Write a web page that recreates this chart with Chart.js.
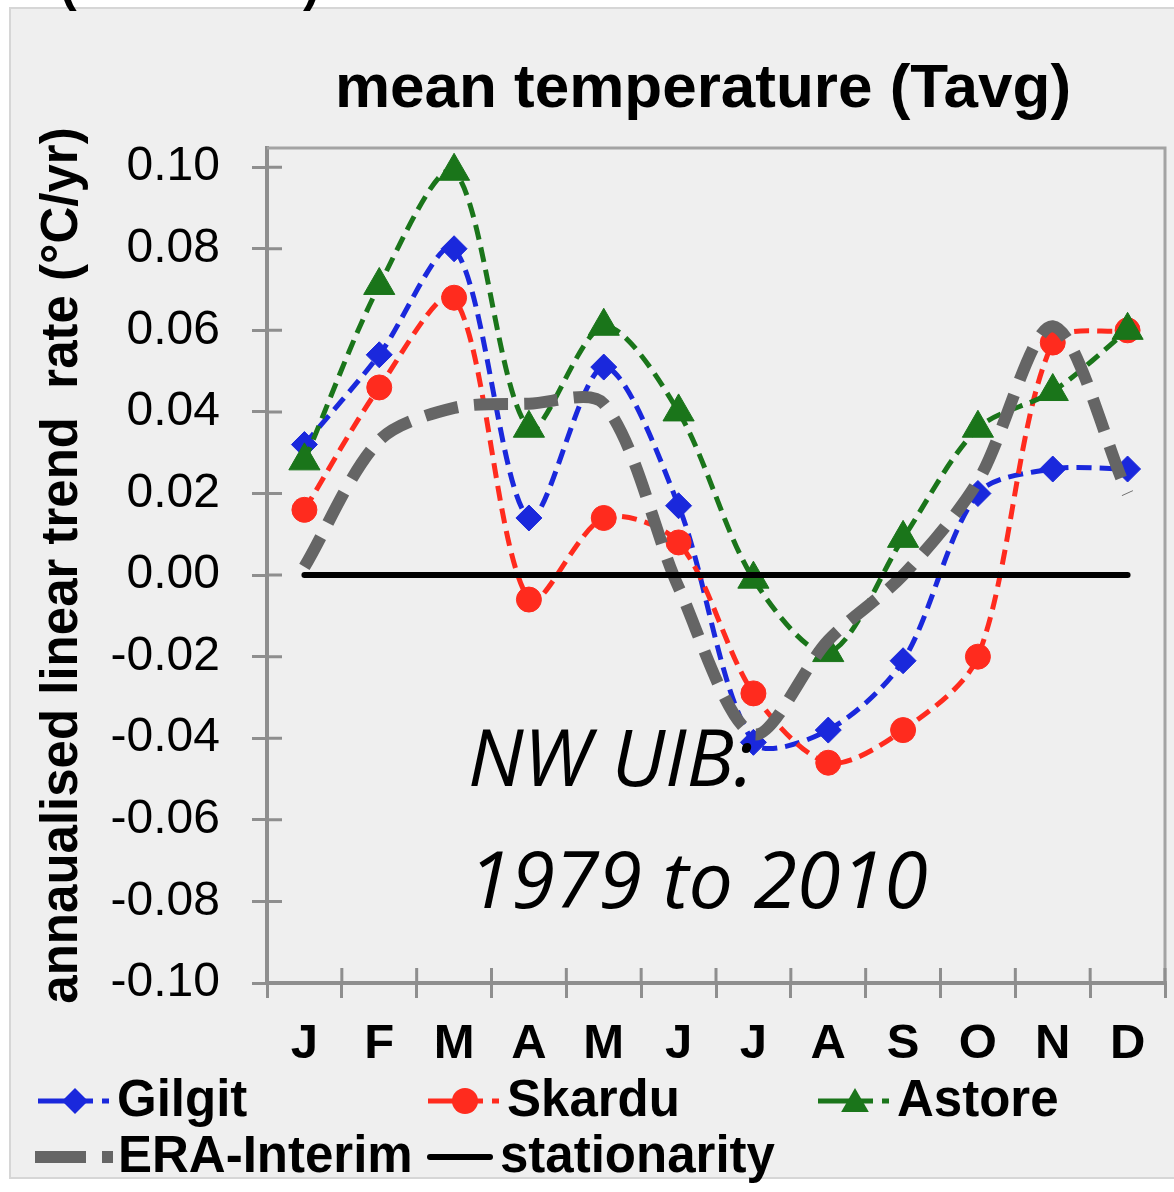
<!DOCTYPE html>
<html><head><meta charset="utf-8">
<script src="https://cdn.jsdelivr.net/npm/chart.js@4.4.0/dist/chart.umd.min.js"></script>
<style>html,body{margin:0;padding:0;background:#fff;}canvas{display:block}</style>
</head><body>
<canvas id="c" width="1174" height="1192"></canvas>
<script>
// ---- data ----
const months = ['J','F','M','A','M','J','J','A','S','O','N','D'];
const yTicks = [-0.10,-0.08,-0.06,-0.04,-0.02,0.00,0.02,0.04,0.06,0.08,0.10];
const gilgit = [0.032,0.054,0.080,0.014,0.051,0.017,-0.041,-0.038,-0.021,0.020,0.026,0.026];
const skardu = [0.016,0.046,0.068,-0.006,0.014,0.008,-0.029,-0.046,-0.038,-0.020,0.057,0.060];
const astore = [0.028,0.071,0.099,0.036,0.061,0.040,-0.001,-0.019,0.009,0.036,0.045,0.060];
const eraInterim = [0.002,0.033,0.041,0.042,0.042,-0.003,-0.039,-0.016,0.000,0.023,0.061,0.020];
const stationarity = [0,0,0,0,0,0,0,0,0,0,0,0];
const seriesNames = ['Gilgit','Skardu','Astore','ERA-Interim','stationarity'];
const chartTitle = 'mean temperature (Tavg)';
const yTitle = 'annaualised linear trend  rate (\u00B0C/yr)';
const noteLines = ['NW UIB:','1979 to 2010'];

// ---- styles ----
const F = '"Liberation Sans", Arial, Helvetica, sans-serif';
const axisCol = '#8e8e8e';
const BLUE = '#1a28dc', RED = '#ff2b1e', GREEN = '#1a751a', GRAY = '#656565';

function drawMarker(ctx, style, x, y, r, color){
  ctx.save(); ctx.fillStyle = color; ctx.setLineDash([]); ctx.beginPath();
  if (style === 'rectRot'){ ctx.moveTo(x, y-r); ctx.lineTo(x+r, y); ctx.lineTo(x, y+r); ctx.lineTo(x-r, y); }
  else if (style === 'triangle'){ ctx.moveTo(x, y-r); ctx.lineTo(x+r*0.866, y+r/2); ctx.lineTo(x-r*0.866, y+r/2); }
  else { ctx.arc(x, y, r, 0, Math.PI*2); }
  ctx.closePath(); ctx.fill(); ctx.restore();
}

const decor = {
  id: 'decor',
  beforeDraw(chart){
    const ctx = chart.ctx;
    ctx.save();
    ctx.fillStyle = '#fff'; ctx.fillRect(0,0,chart.width,chart.height);
    ctx.fillStyle = '#efefef'; ctx.fillRect(10,8,chart.width-10,1170);
    ctx.strokeStyle = '#d6d6d6'; ctx.lineWidth = 2; ctx.strokeRect(10,8,chart.width-8,1170);
    ctx.fillStyle = '#000'; ctx.font = 'bold 50px ' + F; ctx.textBaseline = 'alphabetic'; ctx.textAlign = 'left';
    ctx.fillText('(', 60, 1); ctx.fillText(')', 303, 1);
    ctx.restore();
  },
  beforeDatasetsDraw(chart){
    const ctx = chart.ctx, a = chart.chartArea, xs = chart.scales.x, ys = chart.scales.y;
    ctx.save();
    ctx.strokeStyle = '#a3a3a3'; ctx.lineWidth = 3;
    ctx.beginPath(); ctx.moveTo(a.left, a.top); ctx.lineTo(a.right, a.top); ctx.lineTo(a.right, a.bottom); ctx.stroke();
    ctx.strokeStyle = axisCol; ctx.lineWidth = 3;
    ctx.beginPath();
    for (const t of ys.ticks){ const y = ys.getPixelForValue(t.value); ctx.moveTo(a.left, y); ctx.lineTo(a.left+15, y); }
    for (let i = 0; i <= months.length; i++){ const x = xs.getPixelForValue(i-0.5); ctx.moveTo(x, a.bottom); ctx.lineTo(x, a.bottom-15); }
    ctx.stroke();
    ctx.restore();
  },
  afterDraw(chart){
    const ctx = chart.ctx;
    ctx.save();
    ctx.fillStyle = '#000';
    ctx.font = 'bold 62px ' + F; ctx.textAlign = 'center'; ctx.textBaseline = 'alphabetic';
    ctx.fillText(chartTitle, 703, 107);
    ctx.font = 'italic 79px "Open Sans", sans-serif'; ctx.textAlign = 'left';
    ctx.fillText(noteLines[0], 468, 786);
    ctx.fillText(noteLines[1], 468, 908);
    // legend
    const rows = [1101, 1157];
    const place = [[0,0],[1,0],[2,0],[0,1],[1,1]];
    chart.data.datasets.forEach((ds, i) => {
      const x0 = 38 + place[i][0]*390, y = rows[place[i][1]];
      ctx.save();
      ctx.strokeStyle = ds.borderColor; ctx.lineCap = 'butt';
      let tx = x0 + 79;
      if (i < 3){
        ctx.lineWidth = 5;
        ctx.beginPath(); ctx.moveTo(x0, y); ctx.lineTo(x0+55, y); ctx.moveTo(x0+64, y); ctx.lineTo(x0+71, y); ctx.stroke();
        drawMarker(ctx, ds.pointStyle, x0+37, y + (ds.pointStyle==='triangle'?3:0), ds.pointStyle==='triangle'?16:13, ds.borderColor);
      } else if (i === 3){
        ctx.lineWidth = 12;
        ctx.beginPath(); ctx.moveTo(x0-3, y); ctx.lineTo(x0+48, y); ctx.moveTo(x0+64, y); ctx.lineTo(x0+75, y); ctx.stroke();
        tx = x0 + 80;
      } else {
        ctx.lineWidth = 6; ctx.lineCap = 'round';
        ctx.beginPath(); ctx.moveTo(x0+2, y); ctx.lineTo(x0+62, y); ctx.stroke();
        tx = x0 + 72;
      }
      ctx.restore();
      ctx.fillStyle = '#000'; ctx.font = 'bold 51px ' + F; ctx.textAlign = 'left'; ctx.textBaseline = 'middle';
      ctx.fillText(seriesNames[i], tx, y + 1);
    });
    ctx.restore();
  }
};

new Chart(document.getElementById('c'), {
  type: 'line',
  data: {
    labels: months,
    datasets: [
      {label: seriesNames[0], data: gilgit, borderColor: BLUE, backgroundColor: BLUE, borderWidth: 5, borderDash: [15,8],
       pointStyle: 'rectRot', pointRadius: 13, pointBorderWidth: 1, pointBorderColor: BLUE, pointBackgroundColor: BLUE, tension: 0.3, order: 5},
      {label: seriesNames[1], data: skardu, borderColor: RED, backgroundColor: RED, borderWidth: 5, borderDash: [15,8],
       pointStyle: 'circle', pointRadius: 12.5, pointBorderWidth: 1, pointBorderColor: RED, pointBackgroundColor: RED, tension: 0.3, order: 4},
      {label: seriesNames[2], data: astore, borderColor: GREEN, backgroundColor: GREEN, borderWidth: 5, borderDash: [15,8],
       pointStyle: 'triangle', pointRadius: 18, pointBorderWidth: 1, pointBorderColor: GREEN, pointBackgroundColor: GREEN, tension: 0.3, order: 3},
      {label: seriesNames[3], data: eraInterim, borderColor: GRAY, backgroundColor: GRAY, borderWidth: 12, borderDash: [34,16],
       pointRadius: 0, tension: 0.3, order: 2},
      {label: seriesNames[4], data: stationarity, borderColor: '#000', backgroundColor: '#000', borderWidth: 6,
       borderCapStyle: 'round', pointRadius: 0, tension: 0, order: 1}
    ]
  },
  options: {
    responsive: false, animation: false, events: [],
    layout: {autoPadding: false, padding: {left: 0, right: 9, top: 148, bottom: 117}},
    plugins: {legend: {display: false}, tooltip: {enabled: false}, title: {display: false}},
    scales: {
      x: {
        type: 'category', offset: true,
        grid: {offset: true, drawOnChartArea: false, drawTicks: true, tickLength: 15, color: axisCol, lineWidth: 3},
        border: {display: true, color: axisCol, width: 4},
        ticks: {color: '#000', font: {family: F, size: 49, weight: 'bold'}, padding: 17, maxRotation: 0, autoSkip: false},
        afterFit(s){ s.height = 92; s.paddingLeft = 0; s.paddingRight = 0; }
      },
      y: {
        min: -0.1, max: 0.1047,
        afterBuildTicks(s){ s.ticks = yTicks.map(v => ({value: v})); },
        grid: {drawOnChartArea: false, drawTicks: true, tickLength: 15, color: axisCol, lineWidth: 3},
        border: {display: true, color: axisCol, width: 4},
        ticks: {color: '#000', font: {family: F, size: 48}, padding: 32, callback: v => Number(v).toFixed(2)},
        title: {display: true, text: yTitle, color: '#000', font: {family: F, size: 51, weight: 'bold'}, padding: {top: 32, bottom: 0}},
        afterFit(s){ s.width = 267; s.paddingTop = 0; s.paddingBottom = 0; }
      }
    }
  },
  plugins: [decor]
});
</script>
</body></html>
